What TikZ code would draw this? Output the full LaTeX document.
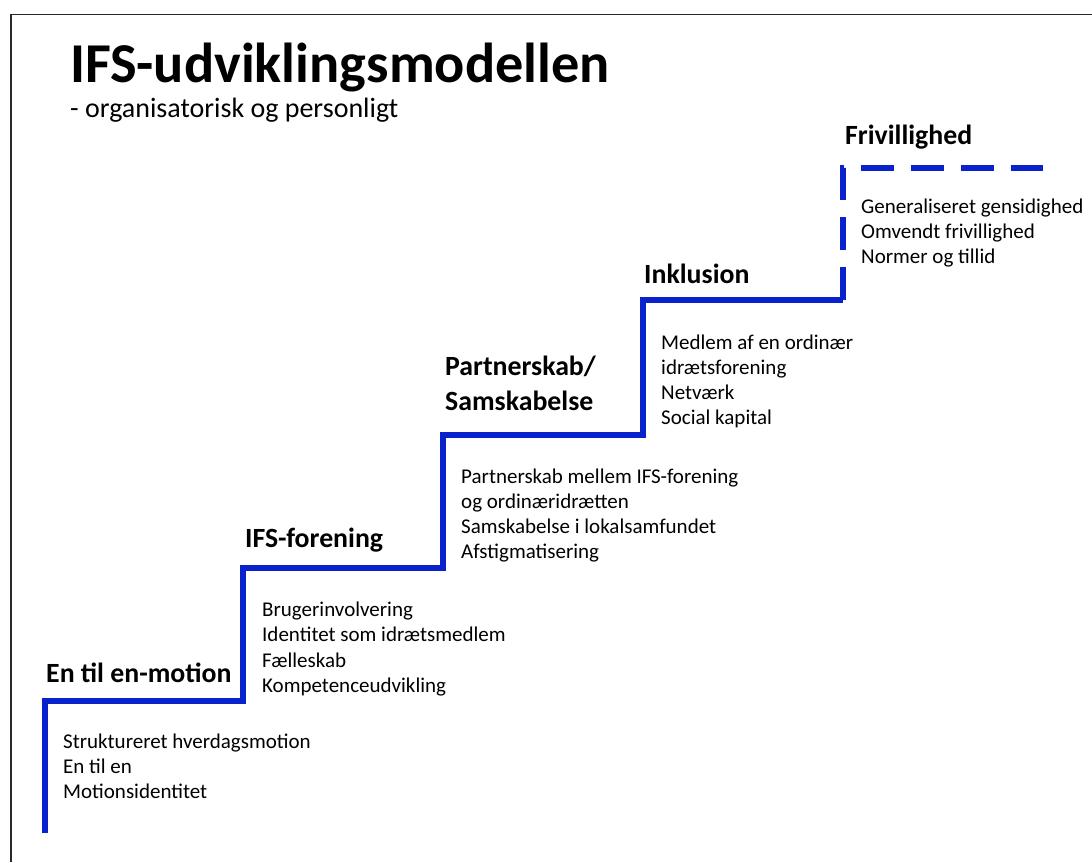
\documentclass[tikz,border=0pt]{standalone}
\usepackage{fontspec}
\setmainfont{Carlito}
\definecolor{stairblue}{RGB}{10,34,204}
\definecolor{framegray}{RGB}{40,40,40}
\begin{document}
\begin{tikzpicture}[x=1pt,y=-1pt,
  heading/.style={anchor=base west,inner sep=0pt,font=\fontsize{27.8}{32}\selectfont\bfseries},
  body/.style={anchor=base west,inner sep=0pt,font=\fontsize{21}{25}\selectfont},
  stair/.style={draw=stairblue,line width=6pt,line join=miter},
  stairdash/.style={stair,dash pattern=on 33pt off 17pt}]
\useasboundingbox (0,0) rectangle (1092,862);
\draw[framegray,line width=1.5pt] (11,862) -- (11,14.5) -- (1092,14.5);
% title
\node[anchor=base west,inner sep=0pt,font=\fontsize{56.3}{60}\selectfont\bfseries] (title) at (70,82) {IFS-udviklingsmodellen};
\node[anchor=base west,inner sep=0pt,font=\fontsize{28}{30}\selectfont] (subtitle) at (70,117) {- organisatorisk og personligt};
% staircase
\coordinate (s0) at (45,833);
\coordinate (s1) at (45,701);
\coordinate (s2) at (243,701);
\coordinate (s3) at (243,568);
\coordinate (s4) at (443,568);
\coordinate (s5) at (443,435);
\coordinate (s6) at (643,435);
\coordinate (s7) at (643,300);
\coordinate (s8) at (843,300);
\coordinate (s9) at (843,168);
\coordinate (s10) at (1043,168);
\draw[stair] (s0) -- (s1) -- (s2) -- (s3) -- (s4) -- (s5) -- (s6) -- (s7) -- (s8);
\draw[stairdash] (s8) -- (s9) -- (s10);
% step 1
\node[heading] (h1) at (46,682) {En til en-motion};
\node[body] (b1a) at (63,748) {Struktureret hverdagsmotion};
\node[body] (b1b) at (63,773) {En til en};
\node[body] (b1c) at (63,798) {Motionsidentitet};
% step 2
\node[heading] (h2) at (245,547) {IFS-forening};
\node[body] (b2a) at (262,616) {Brugerinvolvering};
\node[body] (b2b) at (262,641) {Identitet som idrætsmedlem};
\node[body] (b2c) at (262,667) {Fælleskab};
\node[body] (b2d) at (262,692) {Kompetenceudvikling};
% step 3
\node[heading] (h3a) at (445,375) {Partnerskab/};
\node[heading] (h3b) at (445,410) {Samskabelse};
\node[body] (b3a) at (461,483) {Partnerskab mellem IFS-forening};
\node[body] (b3b) at (461,508) {og ordinæridrætten};
\node[body] (b3c) at (461,533) {Samskabelse i lokalsamfundet};
\node[body] (b3d) at (461,558) {Afstigmatisering};
% step 4
\node[heading] (h4) at (644,283) {Inklusion};
\node[body] (b4a) at (661,349) {Medlem af en ordinær};
\node[body] (b4b) at (661,374) {idrætsforening};
\node[body] (b4c) at (661,399) {Netværk};
\node[body] (b4d) at (661,424) {Social kapital};
% step 5
\node[heading] (h5) at (845,144) {Frivillighed};
\node[body] (b5a) at (861,213) {Generaliseret gensidighed};
\node[body] (b5b) at (861,238) {Omvendt frivillighed};
\node[body] (b5c) at (861,263) {Normer og tillid};
\end{tikzpicture}
\end{document}
